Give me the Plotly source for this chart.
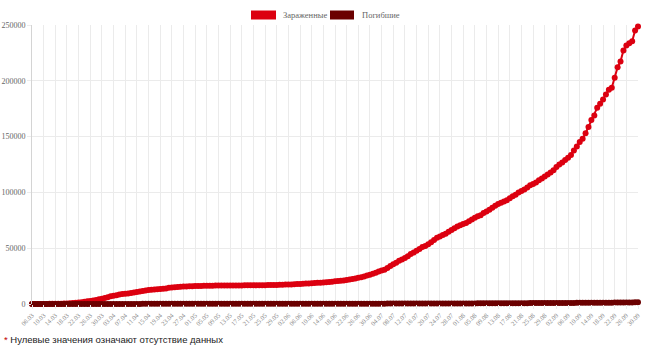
import pandas as pd
import plotly.graph_objects as go

# ---- data ----
dates = pd.date_range("2020-03-06", "2020-09-30", freq="D")
date_labels = [d.strftime("%d.%m") for d in dates]

infected = [
    # March 06..31
    21, 25, 39, 50, 75, 97, 126, 164, 193, 250, 304, 427, 529, 705, 883, 1071,
    1238, 1656, 2030, 2369, 2693, 3035, 3619, 4247, 4695, 5358,
    # April
    6092, 6857, 7428, 7851, 8430, 8904, 9248, 9404, 9968, 10408, 10743, 11145,
    11586, 12046, 12501, 12758, 12982, 13265, 13491, 13713, 13942, 14498, 14803,
    15058, 15298, 15443, 15589, 15728, 15834, 15946,
    # May
    16101, 16185, 16208, 16246, 16289, 16381, 16436, 16477, 16492, 16529, 16548,
    16579, 16606, 16617, 16659, 16667, 16683, 16690, 16712, 16734, 16757, 16793,
    16809, 16870, 16887, 16915, 16947, 17012, 17071, 17169, 17285,
    # June
    17377, 17495, 17562, 17752, 17863, 18032, 18109, 18268, 18392, 18569, 18783,
    18972, 19055, 19237, 19495, 19783, 20047, 20310, 20633, 20778, 21082, 21512,
    21993, 22404, 22800, 23498, 23989, 24688, 25547, 26257,
    # July
    27047, 28055, 29170, 29958, 30749, 32222, 33947, 35533, 36926, 38670, 39969,
    41235, 42827, 44749, 46059, 47719, 49365, 51080, 52003, 53580, 55358, 57264,
    59282, 60510, 61767, 63052, 64745, 66242, 67849, 69413, 70586,
    # August
    71720, 72609, 74130, 75766, 77234, 78627, 79539, 81500, 82800, 84500, 86300,
    88000, 89500, 90800, 91800, 93000, 94800, 96500, 98000, 99800, 101200, 102500,
    104500, 106300, 107500, 108800, 110800, 112500, 114200, 116000, 117800,
    # September
    119800, 122700, 125000, 126800, 129000, 131000, 133500, 137600, 141200,
    145100, 148100, 153000, 158500, 164800, 169000, 175900, 179400, 183300,
    187800, 192000, 193800, 202700, 212200, 217300, 227200, 231600, 233700,
    235500, 245100, 248700,
]

deaths = [
    # March 06..31
    0, 0, 0, 0, 0, 0, 0, 0, 0, 0, 0, 0, 0, 0, 1, 1, 1, 1, 3, 5, 8, 10, 12, 15, 16, 21,
    # April
    26, 31, 39, 44, 49, 57, 65, 73, 79, 86, 101, 110, 116, 123, 130, 151, 164,
    169, 172, 178, 184, 191, 193, 194, 199, 201, 204, 210, 215, 219,
    # May
    223, 225, 230, 232, 235, 239, 242, 245, 252, 260, 264, 264, 265, 268, 271,
    272, 272, 276, 279, 279, 279, 279, 280, 281, 281, 282, 283, 284, 284, 285, 285,
    # June
    288, 291, 291, 293, 297, 298, 298, 299, 300, 300, 302, 302, 302, 303, 303,
    304, 304, 305, 306, 307, 308, 308, 309, 310, 312, 314, 316, 318, 319, 320,
    # July
    321, 324, 327, 330, 334, 338, 346, 350, 356, 362, 365, 368, 374, 380, 386,
    395, 403, 409, 416, 429, 438, 445, 452, 463, 471, 479, 486, 491, 497, 503, 508,
    # August
    514, 523, 531, 541, 553, 566, 578, 585, 593, 601, 614, 628, 643, 659, 668,
    681, 697, 712, 730, 746, 757, 768, 783, 797, 812, 829, 843, 855, 870, 880, 894,
    # September
    906, 918, 936, 953, 967, 983, 994, 1008, 1021, 1035, 1048, 1063, 1077, 1090,
    1103, 1119, 1136, 1153, 1169, 1186, 1208, 1236, 1268, 1296, 1325, 1355, 1384,
    1424, 1471, 1507,
]

series_names = ["Зараженные", "Погибшие"]
y_ticks = [0, 50000, 100000, 150000, 200000, 250000]
footnote = "* Нулевые значения означают отсутствие данных"

assert len(infected) == len(date_labels) == len(deaths)

# ---- styling ----
RED = "#dc0010"
DARK = "#6b0000"
W, H = 650, 351
ML, MR, MT, MB = 32, 12, 24.5, 47.3
PW = W - ML - MR
PH = H - MT - MB


def px_x(x):
    return (x - ML) / PW


def px_y(y):
    return (H - MB - y) / PH


fig = go.Figure()
for name, vals, col in [(series_names[0], infected, RED), (series_names[1], deaths, DARK)]:
    fig.add_trace(go.Scatter(
        x=date_labels, y=vals, name=name, mode="lines+markers",
        line=dict(color=col, width=2),
        marker=dict(color=col, size=6, line=dict(width=0)),
        cliponaxis=False, showlegend=False,
    ))

# manual Chart.js-like legend boxes
legend_items = [(251, 276, 281, series_names[0], RED), (330, 354, 360, series_names[1], DARK)]
shapes = []
annotations = []
for x0, x1, tx, label, col in legend_items:
    shapes.append(dict(type="rect", xref="paper", yref="paper",
                       x0=px_x(x0), x1=px_x(x1), y0=px_y(19), y1=px_y(10),
                       fillcolor=col, line=dict(width=0)))
    annotations.append(dict(text=label, xref="paper", yref="paper",
                            x=px_x(tx), y=px_y(14.5), xanchor="left", yanchor="middle",
                            showarrow=False,
                            font=dict(family="Liberation Serif", size=8.5, color="#666")))

annotations.append(dict(
    text='<span style="color:#c00000">*</span>' + footnote[1:],
    xref="paper", yref="paper", x=px_x(2), y=px_y(339), xanchor="left", yanchor="middle",
    showarrow=False,
    font=dict(family="Liberation Sans", size=9.5, color="#222"),
))

fig.update_layout(
    width=W, height=H,
    margin=dict(l=ML, r=MR, t=MT, b=MB),
    paper_bgcolor="white", plot_bgcolor="white",
    shapes=shapes, annotations=annotations,
    showlegend=False,
    xaxis=dict(
        type="category", range=[0, len(date_labels) - 1],
        tickmode="array", tickvals=date_labels[::4], ticktext=date_labels[::4],
        tickangle=-45, tickfont=dict(family="Liberation Serif", size=6.5, color="#888"),
        showgrid=True, gridcolor="#ebebeb", gridwidth=1,
        ticks="outside", ticklen=4, tickcolor="#ebebeb",
        showline=False, zeroline=False, automargin=False,
    ),
    yaxis=dict(
        range=[0, 250000], tickmode="array", tickvals=y_ticks,
        ticktext=[str(v) for v in y_ticks],
        tickfont=dict(family="Liberation Serif", size=8, color="#666"),
        showgrid=True, gridcolor="#ebebeb", gridwidth=1,
        ticks="outside", ticklen=4, tickcolor="#ebebeb",
        showline=True, linecolor="#d4d4d4", linewidth=1,
        zeroline=False, automargin=False,
    ),
)

fig.write_html("out.html")
